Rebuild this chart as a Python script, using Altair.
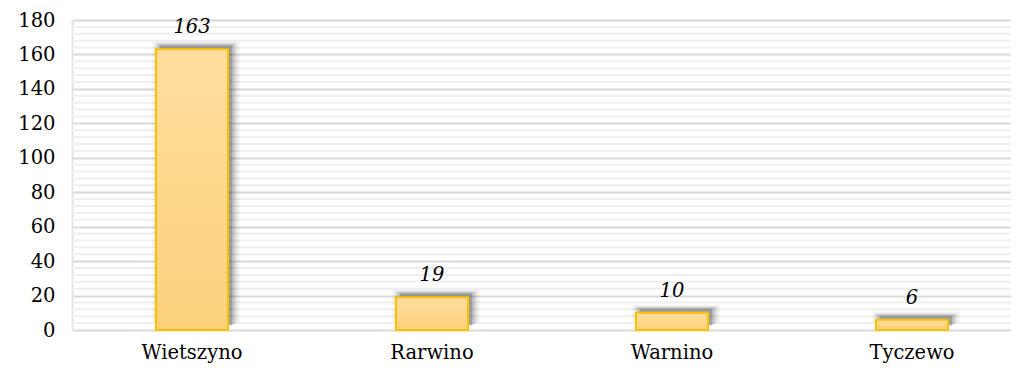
import altair as alt
import pandas as pd

categories = ["Wietszyno", "Rarwino", "Warnino", "Tyczewo"]
values = [163, 19, 10, 6]
major_ticks = [0, 20, 40, 60, 80, 100, 120, 140, 160, 180]
minor_ticks = [v for v in range(0, 181, 4) if v % 20 != 0]

df = pd.DataFrame({"cat": categories, "val": values})
minor_df = pd.DataFrame({"v": minor_ticks})

FONT = "DejaVu Serif"

xscale = alt.Scale(domain=categories, range=[0, 960], paddingInner=0.7, paddingOuter=0.35)
yscale = alt.Scale(domain=[0, 180], nice=False)

yaxis = alt.Axis(title=None, values=major_ticks, ticks=False,
                 labelFont=FONT, labelFontSize=19.5, labelColor="#000000",
                 labelPadding=17, grid=True, gridColor="#d9d9d9", gridWidth=2,
                 domain=True, domainColor="#e3e3e3", domainWidth=2)

minor = alt.Chart(minor_df).mark_rule(color="#efefef", strokeWidth=2).encode(
    y=alt.Y("v:Q", scale=yscale, axis=yaxis)
)

base = alt.Chart(df).encode(
    x=alt.X("cat:N", scale=xscale, sort=categories,
            axis=alt.Axis(title=None, domain=False, ticks=False, labelAngle=0,
                          labelFont=FONT, labelFontSize=19.5, labelColor="#000000",
                          labelPadding=13, grid=False)),
    y=alt.Y("val:Q", scale=yscale, axis=yaxis),
)

shadows = []
for k, op in [(0, 0.16), (2, 0.11), (4, 0.08), (6, 0.05), (8, 0.03)]:
    shadows.append(
        base.mark_bar(color="#000000", opacity=op, size=72 + 2 * k,
                      xOffset=4, yOffset=-4 - k / 2)
    )

bars = base.mark_bar(
    size=72,
    stroke="#FFC000",
    strokeWidth=2,
    color=alt.Gradient(
        gradient="linear",
        stops=[alt.GradientStop(color="#FEDE9E", offset=0),
               alt.GradientStop(color="#FDD17C", offset=1)],
        x1=0, x2=0, y1=0, y2=1,
    ),
)

labels = base.mark_text(
    dy=-22, font=FONT, fontSize=19.5, fontStyle="italic", color="#000000"
).encode(text="val:Q")

chart = alt.layer(minor, *shadows, bars, labels).properties(
    width=939,
    height=310,
    autosize=alt.AutoSizeParams(type="none"),
    padding={"left": 64, "top": 12, "right": 0, "bottom": 36},
).configure_view(stroke=None)

chart.save("out.html", embed_options={"renderer": "svg", "actions": False})
